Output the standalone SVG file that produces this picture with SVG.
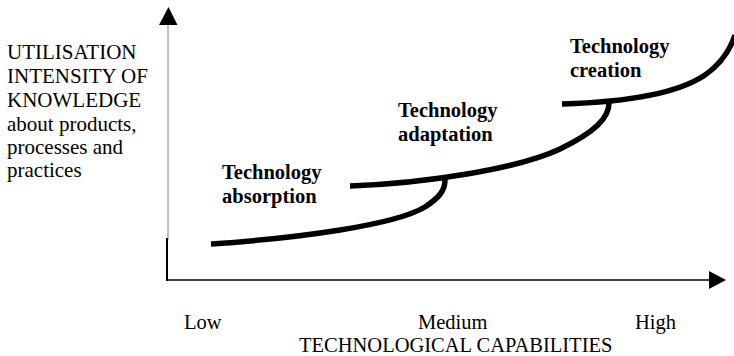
<svg xmlns="http://www.w3.org/2000/svg" width="734" height="356" viewBox="0 0 734 356">
<style>
.t{font-family:"Liberation Serif","Times New Roman",serif;font-size:20.5px;fill:#000}
.l{font-family:"Liberation Serif","Times New Roman",serif;font-size:21px;fill:#000}
.b{font-family:"Liberation Serif","Times New Roman",serif;font-size:20.5px;font-weight:bold;fill:#000}
.curve{fill:none;stroke:#000;stroke-width:5.5;stroke-linecap:butt}
</style>
<rect width="734" height="356" fill="#fff"/>
<g id="y-axis-label">
<text class="l" x="7" y="59">UTILISATION</text>
<text class="l" x="7" y="83">INTENSITY OF</text>
<text class="l" x="7" y="107">KNOWLEDGE</text>
<text class="l" x="7" y="131">about products,</text>
<text class="l" x="7" y="154">processes and</text>
<text class="l" x="7" y="177">practices</text>
</g>
<g id="axes">
<line x1="168" y1="24" x2="168" y2="240" stroke="#808080" stroke-width="1"/>
<line x1="167" y1="238" x2="167" y2="281" stroke="#000" stroke-width="2"/>
<polygon points="159,25 168.5,7 177.5,25" fill="#000"/>
<line x1="166" y1="280" x2="710" y2="280" stroke="#000" stroke-width="1.5"/>
<polygon points="709,271 726,280 709,289" fill="#000"/>
</g>
<g id="connectors">
<path class="curve" d="M211,244 C300,238 395,225 425,207 C440,197 445,190 445,180"/>
<path class="curve" d="M350,186 C430,183 520,168 560,149 C595,132 609,118 609,103"/>
<path class="curve" d="M562,104 C630,102 680,92 705,75 C722,63 730,50 735,35"/>
</g>
<g id="absorption"><text class="b" x="222" y="179">Technology</text><text class="b" x="222" y="203">absorption</text></g>
<g id="adaptation"><text class="b" x="398" y="117">Technology</text><text class="b" x="398" y="141">adaptation</text></g>
<g id="creation"><text class="b" x="570" y="53">Technology</text><text class="b" x="570" y="77">creation</text></g>
<g id="x-axis-labels">
<text class="t" x="184" y="329">Low</text>
<text class="t" x="418" y="329">Medium</text>
<text class="t" x="635" y="329">High</text>
<text class="t" x="299" y="352">TECHNOLOGICAL CAPABILITIES</text>
</g>
</svg>
